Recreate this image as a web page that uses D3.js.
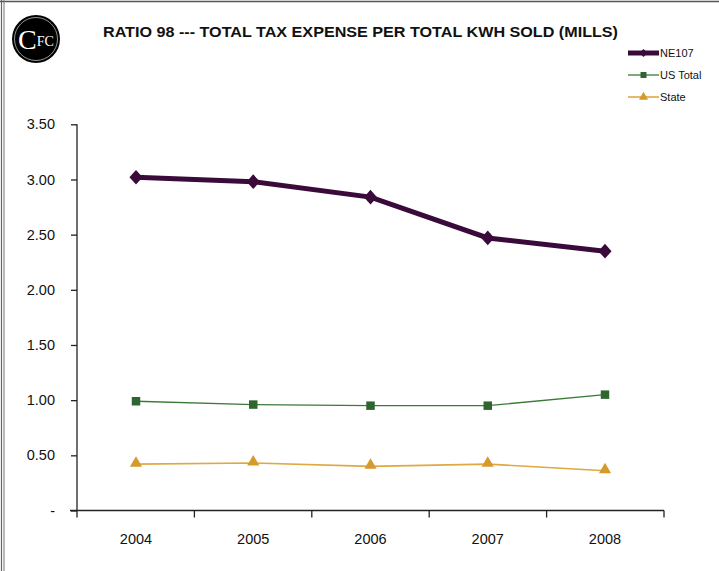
<!DOCTYPE html>
<html><head><meta charset="utf-8">
<script src="https://cdn.jsdelivr.net/npm/d3@7"></script>
<style>body{margin:0;background:#fff}svg{display:block}</style>
</head><body><svg id="c" width="719" height="571"></svg>
<script>
const years = ["2004","2005","2006","2007","2008"];
const ne107 = [3.02, 2.98, 2.84, 2.47, 2.35];
const usTotal = [0.99, 0.96, 0.95, 0.95, 1.05];
const state = [0.42, 0.43, 0.40, 0.42, 0.36];
const yTicks = [0, 0.5, 1, 1.5, 2, 2.5, 3, 3.5];
const yTickLabels = ["-", "0.50", "1.00", "1.50", "2.00", "2.50", "3.00", "3.50"];
const seriesNames = ["NE107", "US Total", "State"];
const title = "RATIO 98 --- TOTAL TAX EXPENSE PER TOTAL KWH SOLD (MILLS)";

const svg = d3.select("#c");
const font = "'Liberation Sans Narrow','Liberation Sans',Arial,sans-serif";

// frame
svg.append("line").attr("x1",0).attr("x2",719).attr("y1",1.5).attr("y2",1.5).attr("stroke","#555").attr("stroke-width",1.5);
svg.append("line").attr("x1",1.5).attr("x2",1.5).attr("y1",0).attr("y2",571).attr("stroke","#666").attr("stroke-width",1.2);
svg.append("line").attr("x1",4).attr("x2",4).attr("y1",0).attr("y2",571).attr("stroke","#777").attr("stroke-width",1);

// logo
const logo = svg.append("g").attr("transform","translate(36,39)");
logo.append("circle").attr("r",24).attr("fill","#000");
logo.append("circle").attr("r",21.5).attr("fill","none").attr("stroke","#bbb").attr("stroke-width",0.8);
const lt = logo.append("text").attr("x",-18).attr("y",10).attr("fill","#fff").attr("font-family","'Liberation Serif','DejaVu Serif',serif");
lt.append("tspan").attr("font-size",28).text("C");
lt.append("tspan").attr("font-size",14).attr("dy",-3).text("FC");

// title
svg.append("text").attr("x",103).attr("y",37).attr("font-family",font).attr("font-weight","bold")
  .attr("font-size",15).attr("fill","#111").attr("textLength",515).attr("lengthAdjust","spacingAndGlyphs").text(title);

const x = d3.scalePoint().domain(years).range([136, 605]);
const y = d3.scaleLinear().domain([0,3.5]).range([510.5,124.3]);

// y axis
const yAxis = svg.append("g").attr("transform","translate(77,0)")
  .call(d3.axisLeft(y).tickValues(yTicks).tickFormat((d,i)=>yTickLabels[i]).tickSize(6).tickPadding(16));
yAxis.selectAll("path,line").attr("stroke","#222").attr("stroke-width",1.3);
yAxis.select(".domain").attr("d","M0,124.3V510.5");
yAxis.selectAll("text").attr("font-family","'Liberation Sans',Arial,sans-serif").attr("font-size",14.5).attr("fill","#111");

// x axis (category bands)
const xb = d3.scaleBand().domain(years).range([77,664]);
const xAxis = svg.append("g").attr("transform","translate(0,510.5)");
xAxis.append("line").attr("x1",70).attr("x2",664).attr("stroke","#222").attr("stroke-width",1.3);
const bounds = years.map(d=>xb(d)).concat([664]);
xAxis.selectAll("line.tk").data(bounds).join("line").attr("class","tk")
  .attr("x1",d=>d).attr("x2",d=>d).attr("y1",0).attr("y2",7).attr("stroke","#222").attr("stroke-width",1.3);
xAxis.selectAll("text").data(years).join("text").attr("x",d=>x(d)).attr("y",33).attr("text-anchor","middle")
  .attr("font-family","'Liberation Sans',Arial,sans-serif").attr("font-size",14.5).attr("fill","#111").text(d=>d);

const line = d3.line().x((d,i)=>x(years[i])).y(d=>y(d));
const diamond = d3.symbol().type(d3.symbolDiamond2).size(110);
const square = d3.symbol().type(d3.symbolSquare).size(72);
const tri = d3.symbol().type(d3.symbolTriangle).size(64);

// State
svg.append("path").datum(state).attr("d",line).attr("fill","none").attr("stroke","#e0a840").attr("stroke-width",1.6);
svg.selectAll("path.st").data(state).join("path").attr("class","st").attr("d",tri)
  .attr("transform",(d,i)=>`translate(${x(years[i])},${y(d)-1})`).attr("fill","#d69a2c");
// US Total
svg.append("path").datum(usTotal).attr("d",line).attr("fill","none").attr("stroke","#3a7a3a").attr("stroke-width",1.3);
svg.selectAll("path.us").data(usTotal).join("path").attr("class","us").attr("d",square)
  .attr("transform",(d,i)=>`translate(${x(years[i])},${y(d)})`).attr("fill","#2f6630");
// NE107
svg.append("path").datum(ne107).attr("d",line).attr("fill","none").attr("stroke","#3a0a3a").attr("stroke-width",5);
svg.selectAll("path.ne").data(ne107).join("path").attr("class","ne").attr("d",diamond)
  .attr("transform",(d,i)=>`translate(${x(years[i])},${y(d)}) scale(1,1.12)`).attr("fill","#3a0a3a");

// legend
const leg = [
  {n:seriesNames[0], c:"#3a0a3a", w:5, sym:d3.symbol().type(d3.symbolDiamond2).size(40), y:53},
  {n:seriesNames[1], c:"#3a7a3a", w:1.3, sym:d3.symbol().type(d3.symbolSquare).size(36), y:75},
  {n:seriesNames[2], c:"#e0a840", w:1.6, sym:d3.symbol().type(d3.symbolTriangle).size(36), y:97}
];
const lg = svg.selectAll("g.lg").data(leg).join("g").attr("class","lg").attr("transform",d=>`translate(0,${d.y})`);
lg.append("line").attr("x1",628).attr("x2",659).attr("stroke",d=>d.c).attr("stroke-width",d=>d.w);
lg.append("path").attr("d",d=>d.sym()).attr("transform","translate(643.5,0)").attr("fill",(d,i)=>i===2?"#d69a2c":(i===1?"#2f6630":d.c));
lg.append("text").attr("x",660).attr("y",4).attr("font-family",font).attr("font-size",11).attr("fill","#111").text(d=>d.n);
</script></body></html>
